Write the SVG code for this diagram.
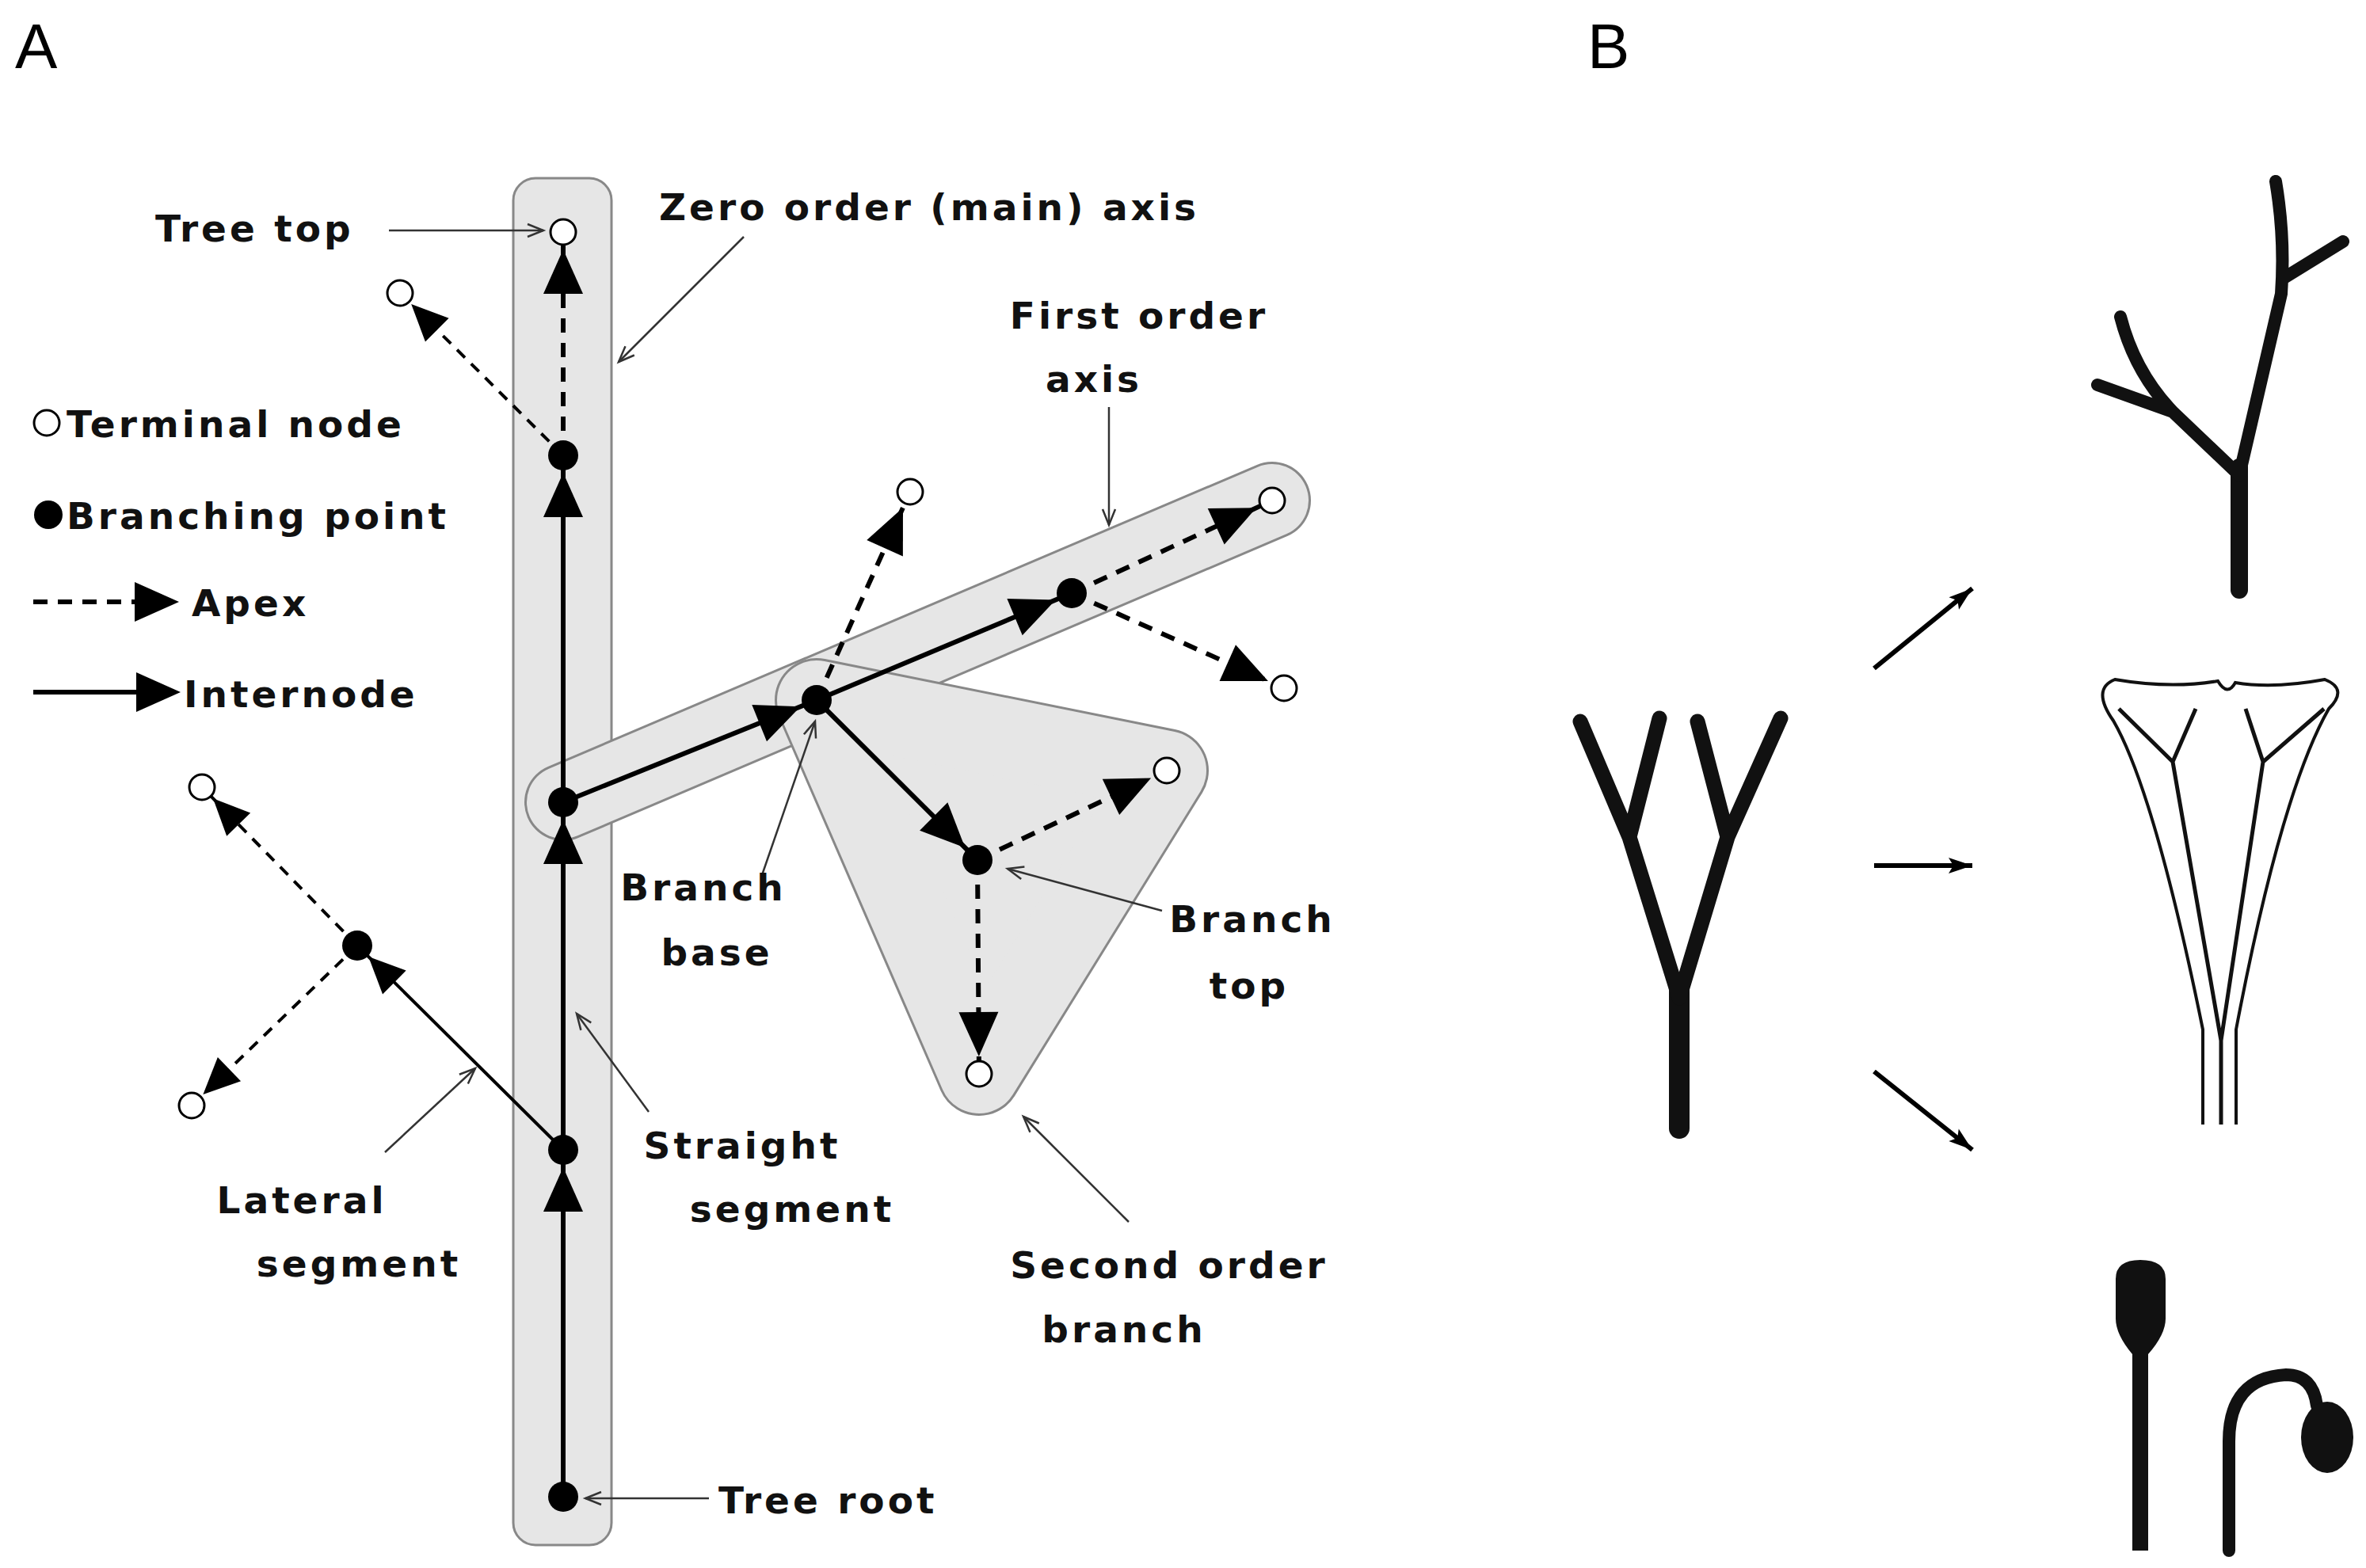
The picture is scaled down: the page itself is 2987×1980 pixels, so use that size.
<svg xmlns="http://www.w3.org/2000/svg" width="2987" height="1980" viewBox="0 0 2987 1980">
<defs>
<style>
.t{font-family:"DejaVu Sans",sans-serif;font-size:47px;font-weight:bold;letter-spacing:4px;fill:#111}
.ptr{stroke:#333;stroke-width:2.5;fill:none;marker-end:url(#open)}
.sol{stroke:#000;stroke-width:6;fill:none;marker-end:url(#big)}
.dsh{stroke:#000;stroke-width:6;stroke-dasharray:18 13;fill:none;marker-end:url(#big)}
.sol2{stroke:#000;stroke-width:4;fill:none;marker-end:url(#sm)}
.dsh2{stroke:#000;stroke-width:4;stroke-dasharray:14 11;fill:none;marker-end:url(#sm)}
.tn{fill:#fff;stroke:#000;stroke-width:3}
.bn{fill:#000}
.blk{stroke:#111;fill:none;stroke-linecap:round;stroke-linejoin:round}
</style>
<marker id="big" markerUnits="userSpaceOnUse" markerWidth="90" markerHeight="60" refX="78" refY="25" orient="auto" overflow="visible"><path d="M0,0 L56,25 L0,50 z" fill="#000"/></marker>
<marker id="sm" markerUnits="userSpaceOnUse" markerWidth="80" markerHeight="50" refX="66" refY="21" orient="auto" overflow="visible"><path d="M0,0 L46,21 L0,42 z" fill="#000"/></marker>
<marker id="open" markerUnits="userSpaceOnUse" markerWidth="30" markerHeight="30" refX="20" refY="10" orient="auto" overflow="visible"><path d="M0,2 L20,10 L0,18" fill="none" stroke="#333" stroke-width="2.5"/></marker>
<marker id="arr" markerUnits="userSpaceOnUse" markerWidth="40" markerHeight="30" refX="30" refY="10" orient="auto" overflow="visible"><path d="M0,0 L30,10 L0,20 L6,10 z" fill="#000"/></marker>
</defs>
<rect width="2987" height="1980" fill="#fff"/>
<text x="19" y="86" style="font-family:'Liberation Sans',sans-serif;font-size:80px">A</text>
<text x="2004" y="86" style="font-family:'Liberation Sans',sans-serif;font-size:80px">B</text>

<g id="shapes">
<rect x="648" y="225" width="124" height="1726" rx="28" fill="#e6e6e6" stroke="#888" stroke-width="3"/>
<line x1="711" y1="1013" x2="1606" y2="632" stroke="#888" stroke-width="98" stroke-linecap="round"/>
<line x1="711" y1="1013" x2="1606" y2="632" stroke="#e6e6e6" stroke-width="92" stroke-linecap="round"/>
<polygon points="1031,884 1473,973 1236,1356" fill="#888" stroke="#888" stroke-width="106" stroke-linejoin="round"/>
<polygon points="1031,884 1473,973 1236,1356" fill="#e6e6e6" stroke="#e6e6e6" stroke-width="100" stroke-linejoin="round"/>
</g>

<g id="connectors">
<line class="sol" x1="711" y1="1890" x2="711" y2="1452"/>
<line class="sol" x1="711" y1="1452" x2="711" y2="1013"/>
<line class="sol" x1="711" y1="1013" x2="711" y2="575"/>
<line class="dsh" x1="711" y1="575" x2="711" y2="293"/>
<line class="dsh2" x1="711" y1="575" x2="505" y2="370"/>
<line class="sol2" x1="711" y1="1452" x2="451" y2="1194"/>
<line class="dsh2" x1="451" y1="1194" x2="255" y2="994"/>
<line class="dsh2" x1="451" y1="1194" x2="242" y2="1396"/>
<line class="sol" x1="711" y1="1013" x2="1031" y2="884"/>
<line class="sol" x1="1031" y1="884" x2="1353" y2="749"/>
<line class="dsh" x1="1353" y1="749" x2="1606" y2="632"/>
<line class="dsh" x1="1353" y1="749" x2="1621" y2="869"/>
<line class="dsh" x1="1031" y1="884" x2="1149" y2="621"/>
<line class="sol" x1="1031" y1="884" x2="1234" y2="1086"/>
<line class="dsh" x1="1234" y1="1086" x2="1473" y2="973"/>
<line class="dsh" x1="1234" y1="1086" x2="1236" y2="1356"/>
<line class="dsh" x1="42" y1="760" x2="225" y2="760" style="marker-end:none"/>
<path d="M170,735 L226,760 L170,785 z"/>
<line x1="42" y1="874" x2="175" y2="874" stroke="#000" stroke-width="6"/>
<path d="M172,849 L228,874 L172,899 z"/>
<line class="ptr" x1="491" y1="291" x2="686" y2="291"/>
<line class="ptr" x1="939" y1="299" x2="781" y2="457"/>
<line class="ptr" x1="1400" y1="514" x2="1400" y2="663"/>
<line class="ptr" x1="962" y1="1105" x2="1029" y2="911"/>
<line class="ptr" x1="1467" y1="1150" x2="1272" y2="1097"/>
<line class="ptr" x1="819" y1="1404" x2="728" y2="1280"/>
<line class="ptr" x1="486" y1="1455" x2="600" y2="1349"/>
<line class="ptr" x1="1425" y1="1543" x2="1292" y2="1410"/>
<line class="ptr" x1="895" y1="1892" x2="739" y2="1892"/>
</g>

<g id="nodes">
<circle class="tn" cx="711" cy="293" r="16"/>
<circle class="tn" cx="505" cy="370" r="16"/>
<circle class="tn" cx="255" cy="994" r="16"/>
<circle class="tn" cx="242" cy="1396" r="16"/>
<circle class="tn" cx="1606" cy="632" r="16"/>
<circle class="tn" cx="1149" cy="621" r="16"/>
<circle class="tn" cx="1621" cy="869" r="16"/>
<circle class="tn" cx="1473" cy="973" r="16"/>
<circle class="tn" cx="1236" cy="1356" r="16"/>
<circle class="bn" cx="711" cy="575" r="19"/>
<circle class="bn" cx="711" cy="1013" r="19"/>
<circle class="bn" cx="711" cy="1452" r="19"/>
<circle class="bn" cx="711" cy="1890" r="19"/>
<circle class="bn" cx="451" cy="1194" r="19"/>
<circle class="bn" cx="1031" cy="884" r="19"/>
<circle class="bn" cx="1353" cy="749" r="19"/>
<circle class="bn" cx="1234" cy="1086" r="19"/>
<circle class="tn" cx="59" cy="534" r="16"/>
<circle class="bn" cx="61" cy="650" r="18"/>
</g>

<g id="labels">
<text class="t" x="196" y="305">Tree top</text>
<text class="t" x="832" y="278">Zero order (main) axis</text>
<text class="t" x="1438" y="415" text-anchor="middle">First order</text>
<text class="t" x="1381" y="495" text-anchor="middle">axis</text>
<text class="t" x="84" y="552">Terminal node</text>
<text class="t" x="84" y="668">Branching point</text>
<text class="t" x="242" y="778">Apex</text>
<text class="t" x="232" y="893">Internode</text>
<text class="t" x="888" y="1137" text-anchor="middle">Branch</text>
<text class="t" x="905" y="1219" text-anchor="middle">base</text>
<text class="t" x="1581" y="1177" text-anchor="middle">Branch</text>
<text class="t" x="1577" y="1261" text-anchor="middle">top</text>
<text class="t" x="937" y="1463" text-anchor="middle">Straight</text>
<text class="t" x="1000" y="1543" text-anchor="middle">segment</text>
<text class="t" x="381" y="1532" text-anchor="middle">Lateral</text>
<text class="t" x="453" y="1612" text-anchor="middle">segment</text>
<text class="t" x="1476" y="1614" text-anchor="middle">Second order</text>
<text class="t" x="1419" y="1695" text-anchor="middle">branch</text>
<text class="t" x="907" y="1911">Tree root</text>
</g>

<g id="panelB">
<path class="blk" stroke-width="26" d="M2120,1425 L2120,1248"/>
<path class="blk" stroke-width="19" d="M2120,1260 L2057,1057 L1995,911 M2057,1057 L2095,907 M2120,1260 L2181,1057 L2143,911 M2181,1057 L2248,907"/>
<line x1="2366" y1="844" x2="2490" y2="743" stroke="#000" stroke-width="6" marker-end="url(#arr)"/>
<line x1="2366" y1="1093" x2="2490" y2="1093" stroke="#000" stroke-width="6" marker-end="url(#arr)"/>
<line x1="2366" y1="1353" x2="2490" y2="1452" stroke="#000" stroke-width="6" marker-end="url(#arr)"/>
<path class="blk" stroke-width="22" stroke-linecap="butt" d="M2827,745 L2827,590"/>
<path class="blk" stroke-width="16" d="M2827,600 L2880,371 Q2885,300 2873,229 M2885,350 L2958,305 M2827,600 L2743,520 L2648,486 M2743,520 Q2695,470 2677,400"/>
<path fill="none" stroke="#111" stroke-width="4" d="M2781,1420 L2781,1300 Q2720,1000 2668,910 Q2640,870 2670,858 Q2740,870 2800,860 Q2812,880 2822,862 Q2870,870 2935,858 Q2965,870 2940,895 Q2880,1000 2823,1300 L2823,1420"/>
<path fill="none" stroke="#111" stroke-width="5" d="M2675,895 L2743,962 L2772,895 M2743,962 L2804,1314 L2857,962 L2934,895 M2857,962 L2835,895 M2804,1314 L2804,1420"/>
<path fill="#111" d="M2671,1615 Q2671,1591 2702,1591 Q2734,1591 2734,1615 L2734,1665 Q2734,1685 2712,1710 L2712,1958 L2692,1958 L2692,1710 Q2671,1685 2671,1665 Z"/>
<path class="blk" stroke-width="16" stroke-linecap="butt" d="M2814,1958 L2814,1820 Q2814,1740 2886,1736 Q2920,1736 2925,1775"/>
<ellipse cx="2938" cy="1815" rx="33" ry="45" fill="#111"/>
</g>
</svg>
